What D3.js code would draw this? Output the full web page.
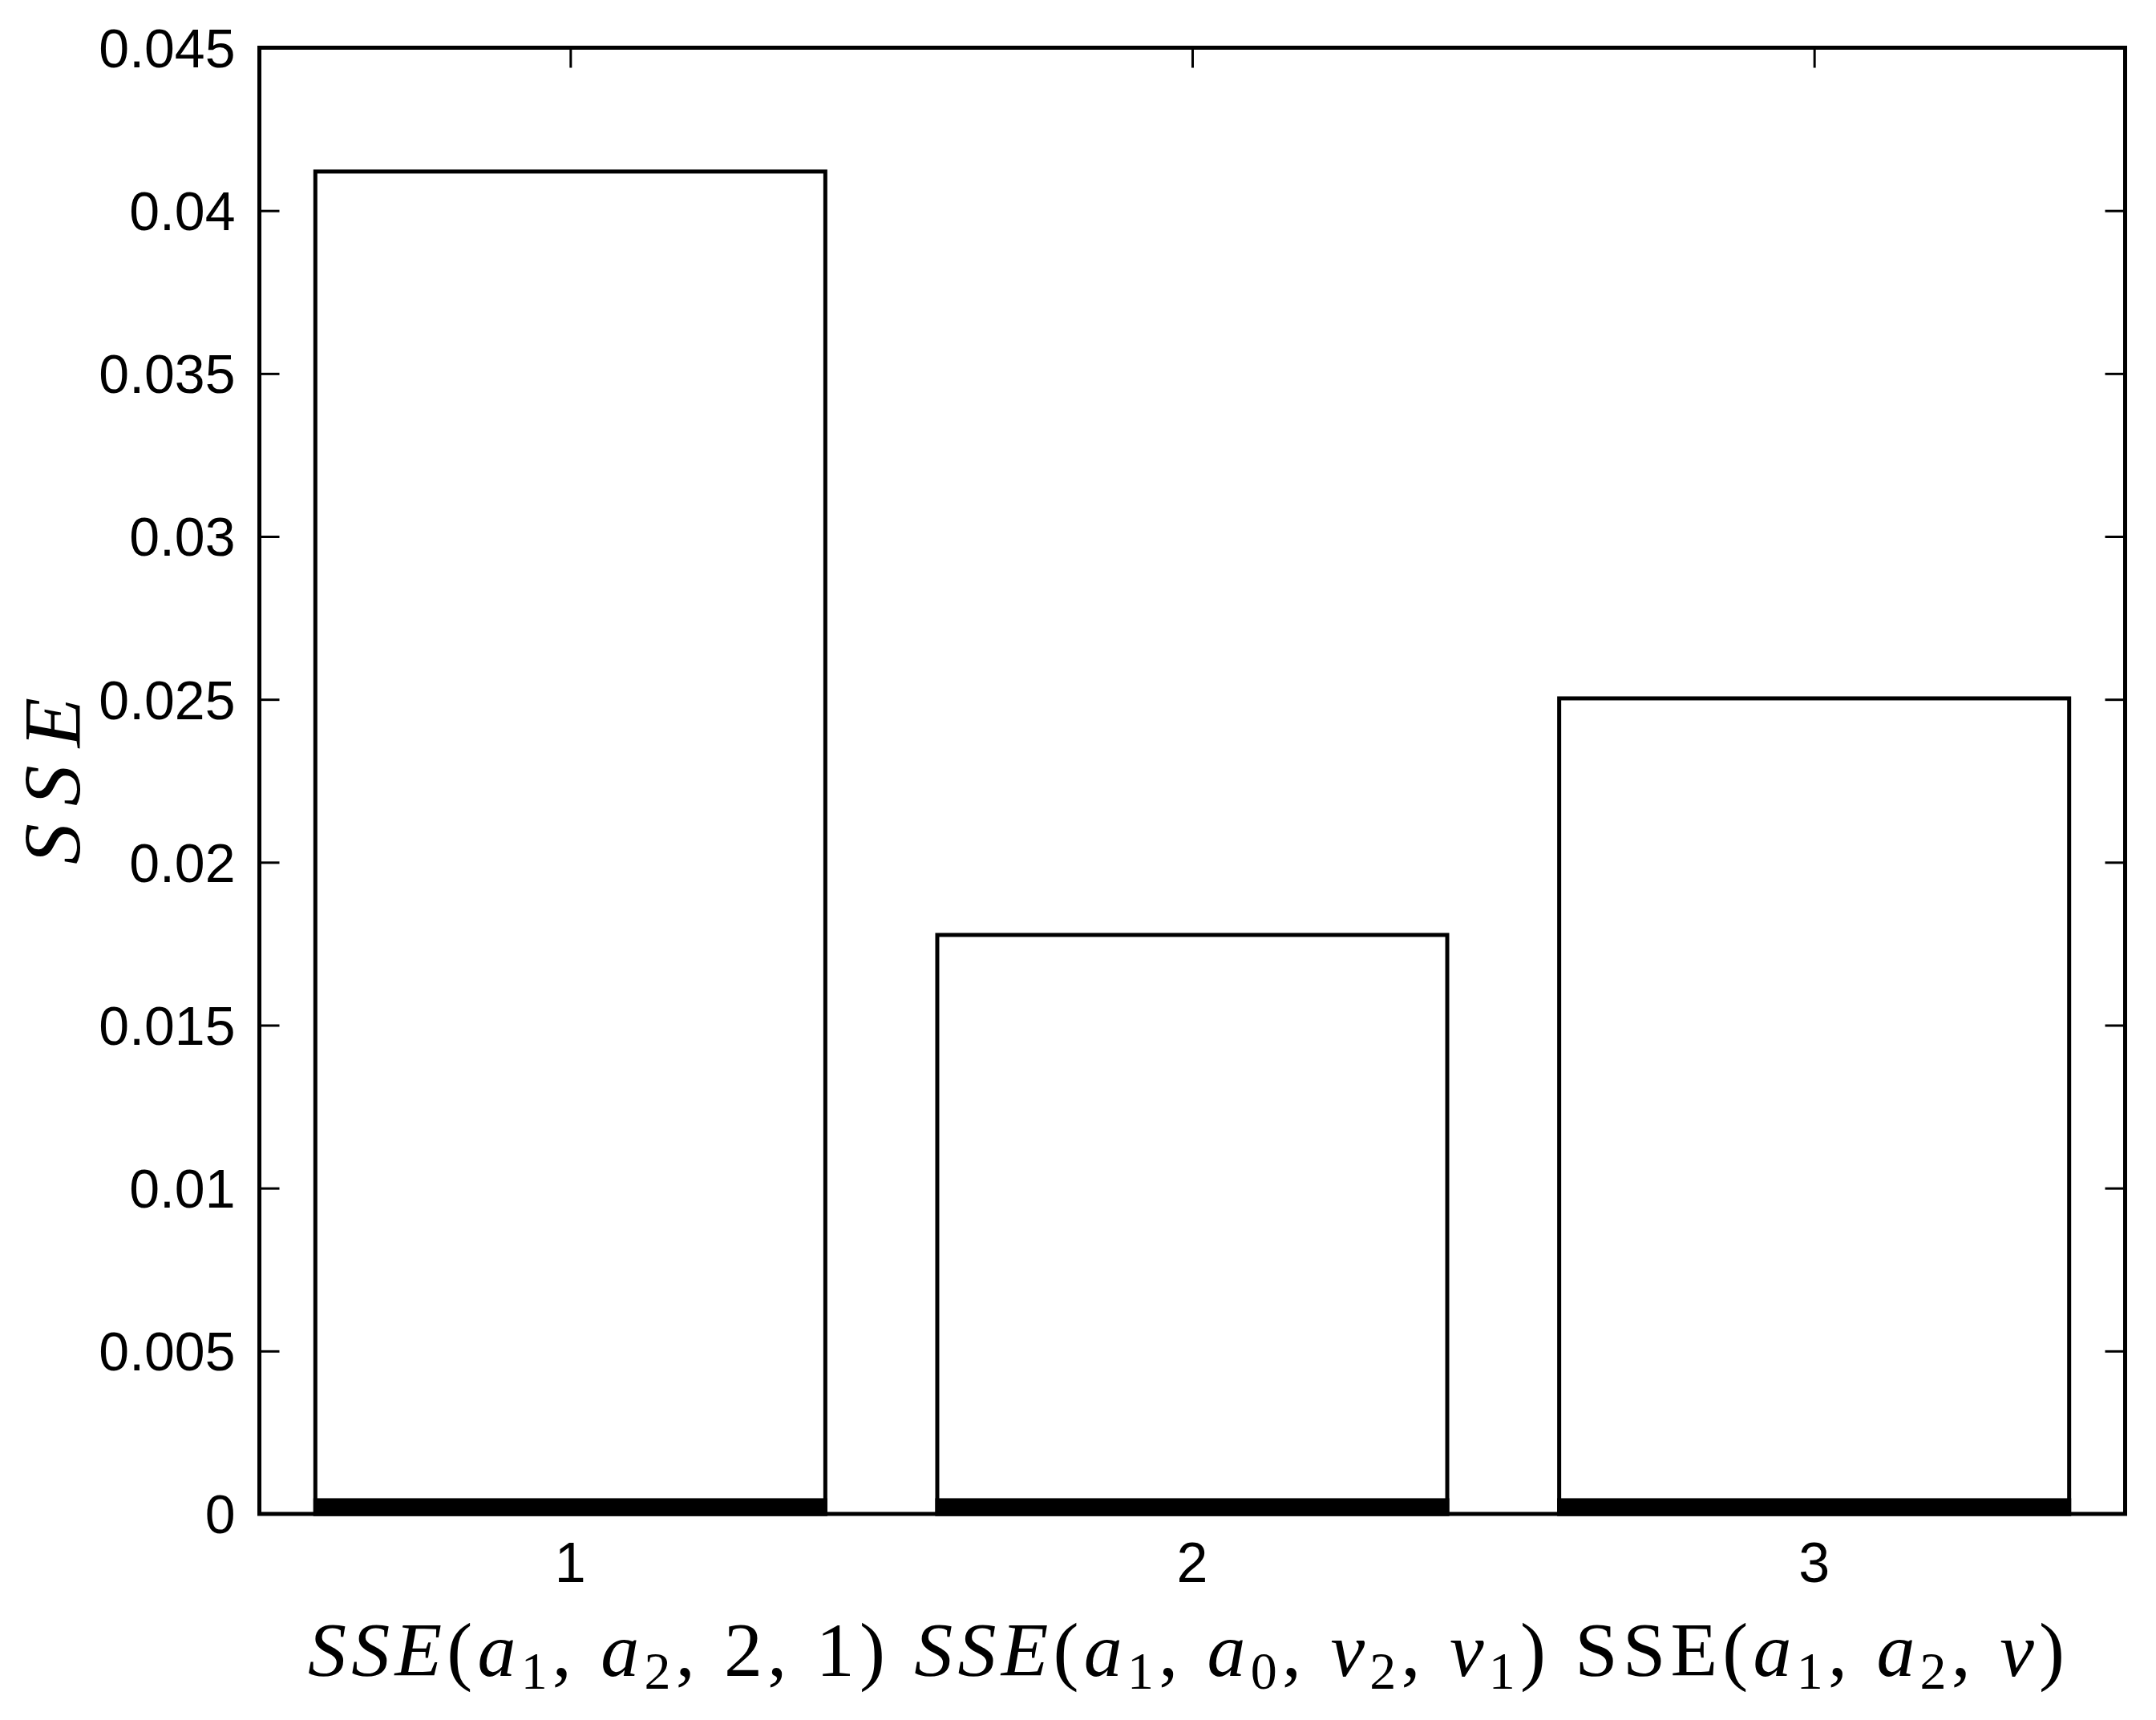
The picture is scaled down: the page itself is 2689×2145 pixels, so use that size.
<!DOCTYPE html>
<html>
<head>
<meta charset="utf-8">
<script src="https://cdn.jsdelivr.net/npm/d3@7"></script>
<style>
  body { margin: 0; background: #fff; }
  svg { display: block; }
</style>
</head>
<body>
<div id="chart"></div>
<script>
// bar values
var categories = [1, 2, 3];
var sseValues = [0.0412, 0.01777, 0.02503];
// thin black strip at the foot of every bar
var baseValues = [0.00042, 0.00042, 0.00042];
var yTicks = [0, 0.005, 0.01, 0.015, 0.02, 0.025, 0.03, 0.035, 0.04, 0.045];
var yTickLabels = ["0", "0.005", "0.01", "0.015", "0.02", "0.025", "0.03", "0.035", "0.04", "0.045"];
var xTickLabels = ["1", "2", "3"];

// x label pieces: [text, kind] with i = italic, r = roman, s = subscript
var xLabelParts = [
  ["SSE", "i"], ["(", "r"], ["a", "i"], ["1", "s"], [", ", "r"], ["a", "i"], ["2", "s"], [", 2, 1) ", "r"],
  ["SSE", "i"], ["(", "r"], ["a", "i"], ["1", "s"], [", ", "r"], ["a", "i"], ["0", "s"], [", ", "r"],
  ["\u03bd", "i"], ["2", "s"], [", ", "r"], ["\u03bd", "i"], ["1", "s"], [") ", "r"],
  ["SSE", "r"], ["(", "r"], ["a", "i"], ["1", "s"], [", ", "r"], ["a", "i"], ["2", "s"], [", ", "r"],
  ["\u03bd", "i"], [")", "r"]
];
var yLabel = "SSE";

var width = 2689, height = 2145;
var margin = {top: 59.5, left: 323.5, bottom: 2145 - 1888, right: 2689 - 2650.5};
var plotW = width - margin.left - margin.right;
var plotH = height - margin.top - margin.bottom;
var barWidth = 0.82;
var tickLen = 25;

var svg = d3.select("#chart").append("svg")
  .attr("width", width)
  .attr("height", height);
svg.append("rect")
  .attr("width", width)
  .attr("height", height)
  .attr("fill", "#fff");

var plot = svg.append("g")
  .attr("transform", "translate(" + margin.left + "," + margin.top + ")");

var xScale = d3.scaleLinear().domain([0.5, 3.5]).range([0, plotW]);
var yScale = d3.scaleLinear().domain([0, 0.045]).range([plotH, 0]);

/* inner ticks on all four sides, like a boxed matlab axes */
var yAxisL = d3.axisRight(yScale).tickValues(yTicks).tickSize(tickLen).tickFormat("");
var yAxisR = d3.axisLeft(yScale).tickValues(yTicks).tickSize(tickLen).tickFormat("");
var xAxisB = d3.axisTop(xScale).tickValues(categories).tickSize(tickLen).tickFormat("");
var xAxisT = d3.axisBottom(xScale).tickValues(categories).tickSize(tickLen).tickFormat("");

plot.append("g").attr("class", "tk").call(yAxisL);
plot.append("g").attr("class", "tk").attr("transform", "translate(" + plotW + ",0)").call(yAxisR);
plot.append("g").attr("class", "tk").attr("transform", "translate(0," + plotH + ")").call(xAxisB);
plot.append("g").attr("class", "tk").call(xAxisT);
plot.selectAll(".tk .domain").remove();
plot.selectAll(".tk line").attr("stroke", "#000").attr("stroke-width", 3);

// bars
plot.selectAll("rect.bar")
  .data(sseValues)
  .enter()
  .append("rect")
    .attr("class", "bar")
    .attr("x", (d, i) => xScale(categories[i] - barWidth / 2))
    .attr("y", (d) => yScale(d))
    .attr("width", (d, i) => xScale(categories[i] + barWidth / 2) - xScale(categories[i] - barWidth / 2))
    .attr("height", (d) => yScale(0) - yScale(d))
    .attr("fill", "#fff")
    .attr("stroke", "#000")
    .attr("stroke-width", 5);

plot.selectAll("rect.base")
  .data(baseValues)
  .enter()
  .append("rect")
    .attr("class", "base")
    .attr("x", (d, i) => xScale(categories[i] - barWidth / 2))
    .attr("y", (d) => yScale(d))
    .attr("width", (d, i) => xScale(categories[i] + barWidth / 2) - xScale(categories[i] - barWidth / 2))
    .attr("height", (d) => yScale(0) - yScale(d))
    .attr("fill", "#000")
    .attr("stroke", "#000")
    .attr("stroke-width", 5);

// box
plot.append("rect")
  .attr("width", plotW)
  .attr("height", plotH)
  .attr("fill", "none")
  .attr("stroke", "#000")
  .attr("stroke-width", 5);

// tick labels
plot.selectAll("text.ylab")
  .data(yTicks)
  .enter()
  .append("text")
    .attr("class", "ylab")
    .attr("x", -30)
    .attr("y", (d) => yScale(d))
    .attr("dy", "0.36em")
    .attr("text-anchor", "end")
    .style("font-family", "Liberation Sans, Arial, sans-serif")
    .style("font-size", "68px")
    .text((d, i) => yTickLabels[i]);

plot.selectAll("text.xlab")
  .data(categories)
  .enter()
  .append("text")
    .attr("class", "xlab")
    .attr("x", (d) => xScale(d))
    .attr("y", plotH + 85)
    .attr("text-anchor", "middle")
    .style("font-family", "Liberation Sans, Arial, sans-serif")
    .style("font-size", "70px")
    .text((d, i) => xTickLabels[i]);

// x label
var xLabel = svg.append("text")
  .attr("x", 384)
  .attr("y", 2090)
  .attr("textLength", 2191)
  .attr("lengthAdjust", "spacing")
  .style("font-family", "Liberation Serif, Times New Roman, serif")
  .style("font-size", "96px");
var down = false;
xLabelParts.forEach(function (p) {
  var ts = xLabel.append("tspan").text(p[0]);
  if (p[1] === "i") ts.style("font-style", "italic");
  if (p[1] === "s") {
    ts.style("font-size", "66px");
    if (!down) { ts.attr("dy", 16); down = true; }
  } else if (down) {
    ts.attr("dy", -16);
    down = false;
  }
});

// y label
svg.append("text")
  .attr("transform", "translate(100,1078) rotate(-90)")
  .attr("textLength", 208)
  .attr("lengthAdjust", "spacing")
  .style("font-family", "Liberation Serif, Times New Roman, serif")
  .style("font-style", "italic")
  .style("font-size", "102px")
  .text(yLabel);
</script>
</body>
</html>
